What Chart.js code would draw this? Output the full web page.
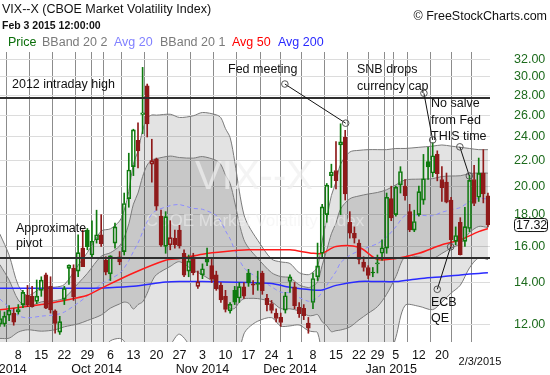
<!DOCTYPE html>
<html><head><meta charset="utf-8">
<script src="https://cdn.jsdelivr.net/npm/chart.js@4/dist/chart.umd.min.js"></script>
<style>html,body{margin:0;padding:0;background:#fff;overflow:hidden}canvas{display:block}</style>
</head><body><canvas id="c" width="550" height="375"></canvas>
<script>
// ---- candles (trading days from Sep 2 2014 to Feb 3 2015) ----
const openV = [
 12.0,12.0,12.4,12.5,12.55,12.9,13.35,13.3,13.05,13.6,
 14.4,13.8,12.6,11.65,13.15,14.75,14.75,14.6,15.9,17.0,
 15.5,16.4,16.7,15.2,14.45,16.2,15.4,15.7,19.1,21.5,
 23.7,26.1,29.0,21.7,22.1,17.9,16.0,16.1,16.5,17.0,
 15.6,14.6,15.4,13.8,14.4,15.3,14.9,14.4,13.85,13.3,
 12.6,13.6,13.22,13.78,14.5,13.9,13.9,14.5,13.2,12.95,
 12.5,12.3,12.63,14.05,13.78,12.77,12.72,12.04,13.0,14.3,
 15.6,18.0,20.8,21.2,23.3,24.0,17.5,16.8,16.2,15.1,
 14.8,14.5,15.0,15.6,15.9,19.1,18.0,20.1,20.0,18.2,
 17.0,18.0,19.0,21.9,21.0,22.5,20.5,20.3,19.0,16.3,
 17.5,16.3,17.1,20.5,19.2,21.0,19.3];
const highV = [
 12.6,12.55,12.85,12.72,12.9,13.6,13.85,13.8,14.13,14.3,
 14.5,14.3,12.65,12.35,13.8,14.95,14.95,16.7,17.0,17.1,
 17.6,18.3,18.0,15.4,15.45,17.44,15.7,19.5,22.6,24.7,
 25.3,31.06,29.2,23.8,22.2,18.3,18.2,17.6,17.0,17.3,
 15.8,15.5,15.6,14.6,15.0,15.9,15.3,14.6,14.0,13.6,
 13.0,13.8,14.0,14.0,14.7,14.1,14.6,14.6,13.4,13.1,
 12.7,12.5,13.5,14.4,14.0,13.0,12.9,12.3,14.5,16.2,
 18.7,20.2,21.7,23.6,25.2,24.6,18.2,17.2,16.4,15.4,
 14.9,14.8,15.5,16.4,19.5,20.0,20.0,21.5,20.5,18.7,
 18.3,20.0,22.5,23.1,23.5,22.8,21.5,21.0,19.2,17.2,
 17.8,18.5,20.8,21.6,22.2,22.9,19.5];
const lowV = [
 11.9,11.9,12.15,11.95,12.45,12.75,12.8,12.78,12.95,13.3,
 12.7,12.5,11.6,11.55,12.9,13.9,13.1,14.3,14.85,15.8,
 15.4,16.2,16.0,14.4,14.1,15.9,14.95,15.5,18.5,20.8,
 21.4,24.3,24.0,20.3,18.3,16.0,15.6,15.8,15.9,15.9,
 14.3,14.3,14.4,13.7,14.2,14.9,14.0,13.6,13.0,12.55,
 12.5,12.9,13.0,13.2,13.8,13.4,13.6,13.4,12.6,12.5,
 12.1,11.9,12.5,13.5,12.7,12.3,12.2,11.6,12.7,14.1,
 15.4,17.5,19.9,19.8,18.0,19.0,16.5,16.2,15.0,14.6,
 14.2,14.3,14.5,15.2,15.6,17.6,17.9,19.5,19.0,16.9,
 16.9,17.9,18.7,20.5,20.7,20.4,18.9,18.8,16.0,16.1,
 15.5,16.0,16.9,18.6,18.9,18.8,17.2];
const closeV = [
 12.25,12.36,12.64,12.09,12.66,13.50,12.88,12.80,13.31,14.12,
 12.73,12.65,12.03,12.11,13.69,14.93,13.27,15.64,14.85,15.98,
 16.31,16.71,16.16,14.55,15.46,17.20,15.11,18.76,21.24,24.64,
 22.79,26.25,25.20,21.99,18.57,16.08,17.87,16.53,16.11,16.04,
 14.39,15.15,14.52,14.03,14.73,15.10,14.17,13.67,13.12,12.67,
 12.92,13.02,13.79,13.31,13.99,13.86,13.96,13.58,12.90,12.62,
 12.25,12.07,13.33,14.29,12.85,12.47,12.38,11.82,14.21,14.89,
 18.53,20.08,21.08,20.42,23.57,19.44,16.81,16.49,15.25,14.80,
 14.37,14.50,15.06,15.92,19.20,17.79,19.92,21.12,19.31,17.01,
 17.55,19.60,20.56,21.48,22.39,20.95,19.89,18.85,16.40,16.66,
 15.52,17.22,20.44,18.76,20.97,19.43,17.32];

// ---- Bollinger bands / 20-day average, read at these trading-day indices ----
const bandIdx = [0,2,4,6,9,12,14,17,19,22,24,26,27,28,29,30,31,32,33,34,37,39,42,44,47,48,49,50,51,52,53,54,56,59,61,63,65,67,68,69,70,71,72,73,74,76,78,80,82,84,86,88,91,94,96,98,100,102,104,106];
const bb2Upper = [16.75,15.5,13.85,13.34,13.7,13.76,13.89,14.92,15.64,16.94,17.08,17.58,18.3,19.62,21.72,22.8,24.58,25.72,26.04,26.02,26.11,25.8,25.96,26.28,26.05,25.77,24.75,23.96,21.93,19.64,18.0,17.28,16.37,15.27,15.11,15.02,14.52,14.41,14.55,14.83,16.33,17.72,19.32,20.32,21.7,22.7,22.84,22.9,22.9,22.9,23.0,23.0,23.1,23.2,23.3,23.2,23.1,23.0,22.9,22.9];
const bb1Upper = [14.96,14.13,13.12,12.81,13.03,13.09,13.22,13.95,14.48,15.43,15.63,16.03,16.54,17.4,18.71,19.5,20.73,21.63,22.04,22.15,22.36,22.24,22.19,22.32,22.0,21.66,20.85,20.21,18.86,17.43,16.4,15.92,15.31,14.52,14.31,14.25,13.88,13.74,13.83,14.03,14.92,15.79,16.77,17.45,18.38,19.09,19.29,19.43,19.54,19.74,20.1,20.47,20.53,20.57,20.73,20.77,20.79,20.95,21.01,20.99];
const avg20 = [13.17,12.76,12.38,12.28,12.36,12.42,12.55,12.98,13.32,13.92,14.18,14.48,14.78,15.18,15.70,16.20,16.88,17.54,18.04,18.28,18.61,18.68,18.42,18.36,17.95,17.55,16.95,16.46,15.79,15.22,14.79,14.56,14.25,13.78,13.51,13.47,13.24,13.06,13.11,13.23,13.51,13.86,14.22,14.58,15.06,15.48,15.74,15.96,16.17,16.57,17.21,17.93,17.96,17.93,18.16,18.33,18.48,18.89,19.12,19.07];
const bb1Lower = [11.38,11.39,11.65,11.75,11.69,11.75,11.88,12.01,12.16,12.41,12.73,12.93,13.02,12.96,12.69,12.9,13.03,13.45,14.04,14.41,14.86,15.12,14.65,14.40,13.9,13.44,13.05,12.71,12.72,13.01,13.18,13.2,13.19,13.03,12.71,12.70,12.6,12.38,12.39,12.43,12.10,11.93,11.67,11.71,11.74,11.87,12.19,12.49,12.8,13.4,14.31,15.4,15.39,15.3,15.59,15.9,16.17,16.84,17.23,17.16];
const bb2Lower = [9.59,10.02,10.91,11.22,11.02,11.08,11.21,11.04,11.0,10.9,11.28,11.38,11.26,10.74,9.68,9.6,9.18,9.36,10.04,10.54,11.11,11.56,10.88,10.44,9.85,9.33,9.15,8.96,9.65,10.8,11.57,11.84,12.13,12.29,11.91,11.92,11.96,11.71,11.67,11.63,10.69,10.0,9.12,8.84,8.42,8.26,8.64,9.02,9.44,10.24,11.42,12.86,12.82,12.66,13.02,13.46,13.86,14.78,15.34,15.24];
// ---- 50 and 200 day averages ----
const maIdx = [0,9,14,19,22,29,36,39,44,49,54,59,63,68,70,73,78,82,86,91,96,100,104,106];
const avg50 = [12.65,12.9,13.1,13.35,13.7,14.5,15.2,15.3,15.55,15.7,15.8,15.8,15.8,15.6,15.6,16.0,15.95,15.25,15.3,15.6,16.1,16.4,16.9,17.1];
const avg200 = [13.7,13.7,13.7,13.7,13.72,13.8,14.02,14.05,14.05,14.03,14.0,13.95,13.75,13.62,13.62,13.85,14.05,14.05,14.05,14.2,14.3,14.4,14.48,14.52];

// ---- axes ----
const yTicks = [12,14,16,18,20,22,24,26,28,30,32];
const gridIdx = [4,9,14,19,21,24,29,34,39,44,49,54,59,63,68,73,78,82,85,86,91,96,100,105];
const dayIdx = [4,9,14,19,24,29,34,39,44,49,54,59,63,68,73,78,82,86,91,96];
const dayLabels = ['8','15','22','29','6','13','20','27','3','10','17','24','1','8','15','22','29','5','12','20'];
const monthIdx = [0,21,44,63,85];
const monthLabels = ['Sep 2014','Oct 2014','Nov 2014','Dec 2014','Jan 2015'];
const lastDateLabel = '2/3/2015';

// ---- reference levels and notes ----
const levelValues = [27.73, 15.34];
const pointers = [
  {text:['Fed meeting'], from:[61.9,29.2], to:[75.1,25.26]},
  {text:['SNB drops','currency cap'], from:[92.1,28.22], to:[94.0,23.74]},
  {text:['No salve','from Fed','THIS time'], from:[99.9,23.14], to:[101.96,20.78]},
  {text:['ECB','QE'], from:[95.0,13.65], to:[97.9,15.98]},
];

const GREEN = '#0e7a0e', RED = '#8f1a1a';
const N = closeV.length;
const up = [], dn = [], body = [], col = [], fillc = [];
for (let i = 0; i < N; i++) {
  const o = openV[i], c = closeV[i];
  const ref = i === 0 ? o : closeV[i-1];
  const color = c >= ref ? GREEN : RED;
  col.push(color);
  fillc.push(c > o ? 'rgba(0,0,0,0)' : color);
  up.push({x:i, y:[Math.max(o,c), highV[i]]});
  dn.push({x:i, y:[lowV[i], Math.min(o,c)]});
  body.push({x:i, y:[Math.min(o,c), Math.max(o,c)]});
}
const pts = (idx, arr) => arr.map((v,k) => ({x:idx[k], y:v}));
const FONT = 'Liberation Sans, Arial, sans-serif';

const lineDs = (label, idx, arr, color, order, extra) => Object.assign({
  type:'line', label, data:pts(idx, arr), borderColor:color, borderWidth:1,
  pointRadius:0, tension:0.3, fill:false, order
}, extra||{});

const datasets = [
  lineDs('bb2u', bandIdx, bb2Upper, '#7a7a7a', 9, {fill:{target:'+1'}, backgroundColor:'rgba(0,0,0,0.11)'}),
  lineDs('bb2l', bandIdx, bb2Lower, '#7a7a7a', 8),
  lineDs('bb1u', bandIdx, bb1Upper, '#7a7a7a', 7, {fill:{target:'+1'}, backgroundColor:'rgba(0,0,0,0.12)'}),
  lineDs('bb1l', bandIdx, bb1Lower, '#7a7a7a', 6),
  lineDs('avg20', bandIdx, avg20, '#8c8cff', 5, {borderDash:[4,3]}),
  lineDs('avg200', maIdx, avg200, '#2a2aff', 4, {borderWidth:1.5}),
  lineDs('avg50', maIdx, avg50, '#ff1a1a', 3, {borderWidth:1.5}),
  {type:'bar', label:'wu', data:up, backgroundColor:col, barThickness:1, grouped:false, order:2},
  {type:'bar', label:'wd', data:dn, backgroundColor:col, barThickness:1, grouped:false, order:2},
  {type:'bar', label:'body', data:body, backgroundColor:fillc, borderColor:col, borderWidth:1,
   borderSkipped:false, barThickness:4, minBarLength:1, grouped:false, order:1},
];

const deco = {
  id:'deco',
  afterDatasetDraw(chart, args) {
    if (args.index !== 3) return;
    const ctx = chart.ctx, a = chart.chartArea;
    ctx.save();
    ctx.beginPath(); ctx.rect(a.left, a.top, a.right-a.left, a.bottom-a.top); ctx.clip();
    ctx.fillStyle = 'rgba(240,240,240,0.7)';
    ctx.textAlign = 'center'; ctx.textBaseline = 'middle';
    ctx.font = '40px ' + FONT;
    ctx.fillText('VIX--X', 254, 178);
    ctx.fillStyle = 'rgba(240,240,240,0.55)';
    ctx.font = '17px ' + FONT;
    ctx.fillText('CBOE Market Volatility Index', 255, 221);
    ctx.restore();
  },
  afterDatasetsDraw(chart) {
    const ctx = chart.ctx, a = chart.chartArea, ys = chart.scales.y;
    ctx.save();
    ctx.beginPath(); ctx.rect(a.left, a.top, a.right-a.left, a.bottom-a.top); ctx.clip();
    ctx.strokeStyle = '#2e2e2e'; ctx.lineWidth = 2.2;
    levelValues.forEach(v => {
      const y = Math.round(ys.getPixelForValue(v));
      ctx.beginPath(); ctx.moveTo(a.left, y); ctx.lineTo(a.right, y); ctx.stroke();
    });
    ctx.restore();
  },
  afterDraw(chart) {
    const ctx = chart.ctx, xs = chart.scales.x, ys = chart.scales.y;
    const X = v => xs.getPixelForValue(v), Y = v => ys.getPixelForValue(v);
    ctx.save();
    ctx.textBaseline = 'middle'; ctx.textAlign = 'left';
    ctx.fillStyle = '#111';
    ctx.font = '12.5px ' + FONT;
    ctx.fillText('2012 intraday high', 12, Y(levelValues[0]) - 13);
    ctx.fillText('Approximate', 16, Y(levelValues[1]) - 29);
    ctx.fillText('pivot', 16, Y(levelValues[1]) - 14);
    const textPos = [[228,70,16],[357,70,17],[431,104,16.5],[431,303,16]];
    pointers.forEach((p,k) => {
      const x1 = X(p.from[0]), y1 = Y(p.from[1]), x2 = X(p.to[0]), y2 = Y(p.to[1]);
      ctx.strokeStyle = '#111'; ctx.lineWidth = 1;
      ctx.beginPath(); ctx.moveTo(x1,y1); ctx.lineTo(x2,y2); ctx.stroke();
      ctx.strokeStyle = '#555';
      [[x1,y1],[x2,y2]].forEach(([cx,cy]) => { ctx.beginPath(); ctx.arc(cx,cy,3.3,0,Math.PI*2); ctx.stroke(); });
      const [tx,ty,lh] = textPos[k];
      p.text.forEach((t,j) => ctx.fillText(t, tx, ty + j*lh));
    });
    ctx.font = '12.5px ' + FONT; ctx.fillStyle = '#111';
    ctx.fillText('VIX--X (CBOE Market Volatility Index)', 2, 10);
    ctx.font = 'bold 10.5px ' + FONT;
    ctx.fillText('Feb 3 2015 12:00:00', 2, 26);
    ctx.font = '12.5px ' + FONT;
    ctx.textAlign = 'right';
    ctx.fillText('\u00A9 FreeStockCharts.com', 547, 17);
    ctx.textAlign = 'left';
    const legend = [['Price','#0a6e0a',8],['BBand 20 2','#7a7a7a',42],['Avg 20','#8080ff',114],
                    ['BBand 20 1','#7a7a7a',160],['Avg 50','#ff0000',232],['Avg 200','#2a2aff',278]];
    legend.forEach(([t,c,x]) => { ctx.fillStyle = c; ctx.fillText(t, x, 43); });
    ctx.fillStyle = '#111'; ctx.textAlign = 'center'; ctx.font = '12.5px ' + FONT;
    dayIdx.forEach((d,k) => ctx.fillText(dayLabels[k], X(d), 356));
    monthIdx.forEach((d,k) => ctx.fillText(monthLabels[k], X(d), 370));
    ctx.font = '11px ' + FONT;
    ctx.fillText(lastDateLabel, X(N-1) - 8, 362);
    const ly = Y(closeV[N-1]);
    ctx.fillStyle = '#fff'; ctx.strokeStyle = '#111'; ctx.lineWidth = 1;
    ctx.beginPath();
    if (ctx.roundRect) ctx.roundRect(514.5, ly-6.5, 33, 13, 3); else ctx.rect(514.5, ly-6.5, 33, 13);
    ctx.fill(); ctx.stroke();
    ctx.fillStyle = '#111'; ctx.textAlign = 'left'; ctx.font = '12.5px ' + FONT;
    ctx.fillText(closeV[N-1].toFixed(2), 516, ly + 0.5);
    ctx.restore();
  }
};

new Chart(document.getElementById('c'), {
  type:'bar',
  data:{datasets},
  options:{
    responsive:false, animation:false, devicePixelRatio:1,
    layout:{padding:{top:52, bottom:33, left:0, right:0}},
    plugins:{legend:{display:false}, tooltip:{enabled:false}},
    scales:{
      x:{type:'linear', min:0.026, max:106.45, offset:false,
         afterBuildTicks: s => { s.ticks = gridIdx.map(v => ({value:v})); },
         afterFit: s => { s.height = 0; },
         ticks:{display:false}, border:{display:false},
         grid:{color:'#8c8c8c', lineWidth:1, drawTicks:false}},
      y:{type:'logarithmic', position:'right', min:11.23, max:32.88,
         afterBuildTicks: s => { s.ticks = yTicks.map(v => ({value:v})); },
         afterFit: s => { s.width = 60; },
         ticks:{callback: v => Number(v).toFixed(2), color:'#1d6b1d', padding:24,
                font:{family:FONT, size:12.5}},
         border:{display:false},
         grid:{color:'#dcdcdc', lineWidth:1, drawTicks:false}}
    }
  },
  plugins:[deco]
});
</script></body></html>
